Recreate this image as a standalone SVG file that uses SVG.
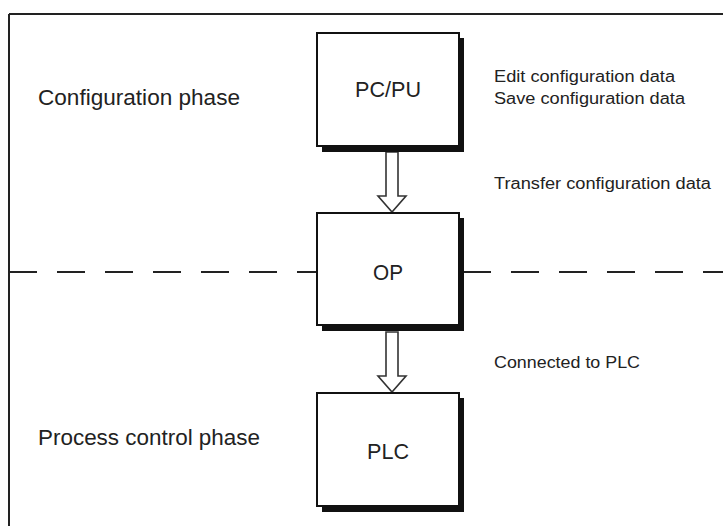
<svg xmlns="http://www.w3.org/2000/svg" width="723" height="526" viewBox="0 0 723 526">
<style>
.frame{fill:none;stroke:#222;stroke-width:2}
.box{fill:#fff;stroke:#111;stroke-width:2}
.shadow{fill:#111}
.dash{fill:none;stroke:#222;stroke-width:2;stroke-dasharray:28 20}
.arrow{fill:#fff;stroke:#333;stroke-width:1.6;stroke-linejoin:miter}
.big{font-family:"Liberation Sans",Arial,sans-serif;font-size:22px;fill:#222}
.lbl{font-family:"Liberation Sans",Arial,sans-serif;font-size:16px;fill:#222}
.node{font-family:"Liberation Sans",Arial,sans-serif;font-size:22px;fill:#222;text-anchor:middle}
</style>
<rect width="723" height="526" fill="#fff"/>
<g id="frame">
<path class="frame" d="M9,14 H723 M9,14 V526"/>
<path class="dash" d="M9,272 H317"/>
<path class="dash" d="M463,272 H723"/>
</g>
<g id="labels">
<text class="big" x="38" y="105" textLength="202" lengthAdjust="spacingAndGlyphs">Configuration phase</text>
<text class="big" x="38" y="445" textLength="222" lengthAdjust="spacingAndGlyphs">Process control phase</text>
<text class="lbl" x="494" y="82" textLength="181" lengthAdjust="spacingAndGlyphs">Edit configuration data</text>
<text class="lbl" x="494" y="104" textLength="191" lengthAdjust="spacingAndGlyphs">Save configuration data</text>
<text class="lbl" x="494" y="189" textLength="217" lengthAdjust="spacingAndGlyphs">Transfer configuration data</text>
<text class="lbl" x="494" y="368" textLength="146" lengthAdjust="spacingAndGlyphs">Connected to PLC</text>
</g>
<g id="connectors">
<path class="arrow" d="M386,152 H398 V196 H406 L392,212 L378,196 H386 Z"/>
<path class="arrow" d="M386,332 H398 V376 H406 L392,392 L378,376 H386 Z"/>
</g>
<g id="node-pcpu">
<rect class="shadow" x="322" y="38" width="142" height="114"/>
<rect class="box" x="317" y="33" width="142" height="113"/>
<text class="node" x="388" y="97" textLength="66" lengthAdjust="spacingAndGlyphs">PC/PU</text>
</g>
<g id="node-op">
<rect class="shadow" x="322" y="218" width="142" height="113"/>
<rect class="box" x="317" y="213" width="142" height="112"/>
<text class="node" x="388" y="280" textLength="30" lengthAdjust="spacingAndGlyphs">OP</text>
</g>
<g id="node-plc">
<rect class="shadow" x="322" y="398" width="142" height="114"/>
<rect class="box" x="317" y="393" width="142" height="113"/>
<text class="node" x="388" y="459" textLength="42" lengthAdjust="spacingAndGlyphs">PLC</text>
</g>
</svg>
